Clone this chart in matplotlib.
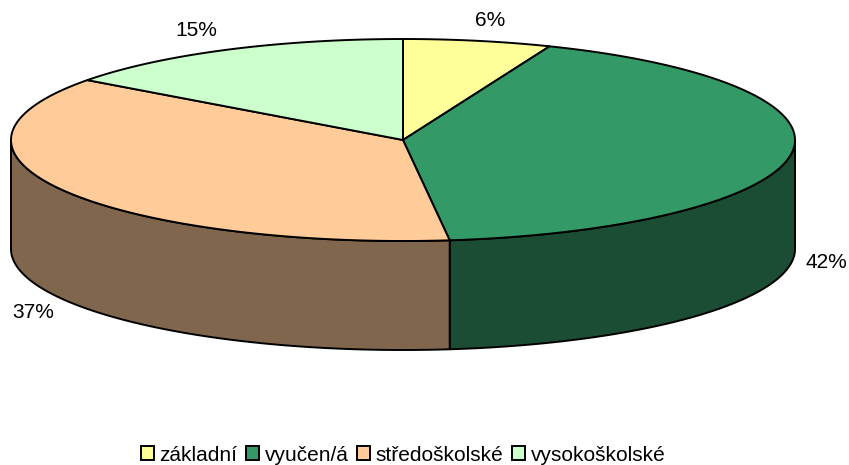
import numpy as np
import matplotlib
matplotlib.use("Agg")
import matplotlib.pyplot as plt
from matplotlib.patches import Polygon, Patch

plt.rcParams['font.family'] = ['Liberation Sans', 'DejaVu Sans']

labels = ["základní", "vyučen/á", "středoškolské", "vysokoškolské"]
values = [6.1, 42.0, 37.0, 14.9]
top_colors = ["#FFFF99", "#339966", "#FFCC99", "#CCFFCC"]
side_colors = ["#80804D", "#1A4D33", "#80664D", "#668066"]
pct_labels = ["6%", "42%", "37%", "15%"]
label_pos = [(490, 21), (826, 262), (33, 312), (196, 30)]

# ellipse geometry in pixels
cx, cy = 403, 140
rx, ry = 392, 101
depth = 109

fig = plt.figure(figsize=(8.49, 4.65), dpi=100)
ax = fig.add_axes([0, 0, 1, 1])
ax.set_xlim(0, 849)
ax.set_ylim(465, 0)
ax.axis("off")


def rim(a0, a1, n=200):
    # angles in degrees clockwise from the top
    t = np.radians(np.linspace(a0, a1, n))
    return cx + rx * np.sin(t), cy - ry * np.cos(t)


edges = np.cumsum([0] + values) / sum(values) * 360

# sides first, only the front half of the rim shows
for i in range(len(values)):
    a0 = max(edges[i], 90)
    a1 = min(edges[i + 1], 270)
    if a1 <= a0:
        continue
    x, y = rim(a0, a1)
    pts = np.r_[np.c_[x, y], np.c_[x, y + depth][::-1]]
    ax.add_patch(Polygon(pts, closed=True, facecolor=side_colors[i],
                         edgecolor="black", linewidth=1.4, joinstyle="round"))

for i in range(len(values)):
    x, y = rim(edges[i], edges[i + 1])
    pts = np.r_[[[cx, cy]], np.c_[x, y]]
    ax.add_patch(Polygon(pts, closed=True, facecolor=top_colors[i],
                         edgecolor="black", linewidth=1.4, joinstyle="round"))

for txt, (px, py) in zip(pct_labels, label_pos):
    ax.text(px, py, txt, fontsize=15, ha="center", va="center", color="black")

handles = [Patch(facecolor=c, edgecolor="black", linewidth=1.4) for c in top_colors]
ax.legend(handles, labels, loc="center", bbox_to_anchor=(403 / 849, 1 - 455 / 465),
          ncol=4, frameon=False, fontsize=15, handlelength=0.65, handleheight=0.65,
          handletextpad=0.25, columnspacing=0.4, borderpad=0)

fig.savefig("out.png", dpi=100)
